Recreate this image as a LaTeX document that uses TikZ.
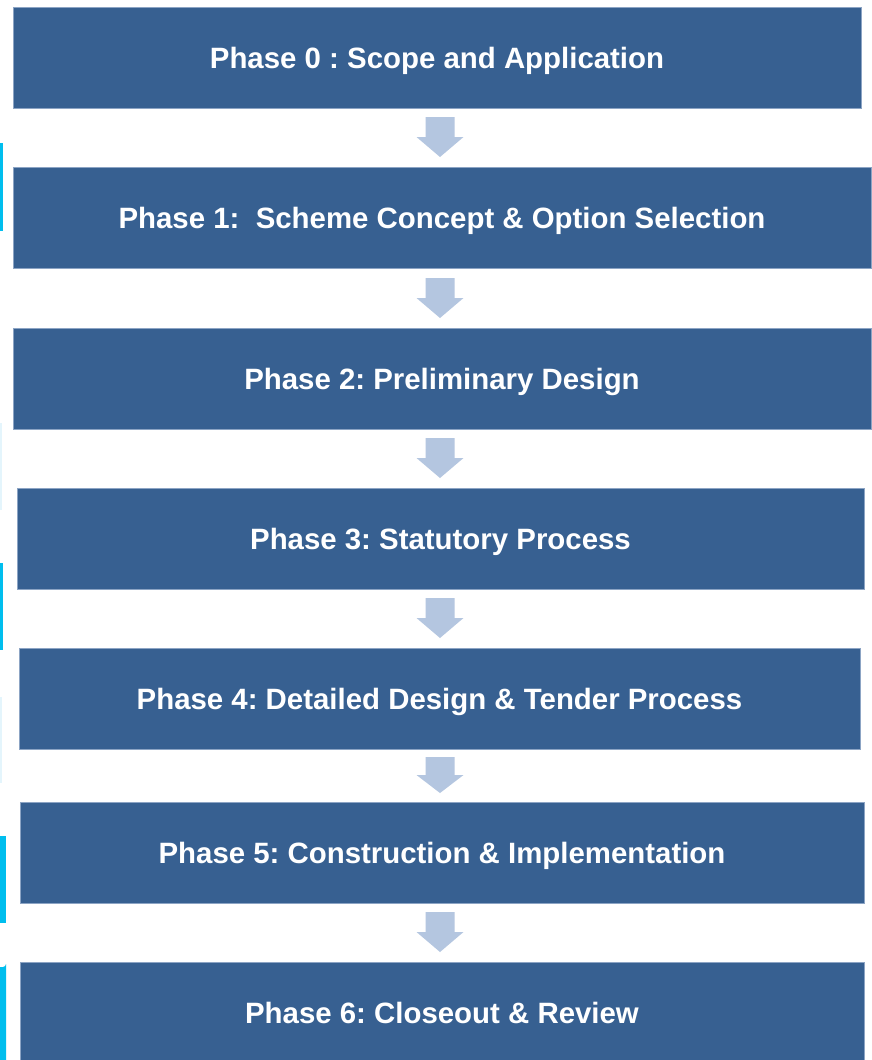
\documentclass[tikz,border=0pt]{standalone}
\usepackage{fontspec}
\setmainfont{Liberation Sans}
\frenchspacing
\definecolor{boxblue}{RGB}{55,96,145}
\definecolor{boxedge}{RGB}{140,164,196}
\definecolor{arrowblue}{RGB}{180,198,224}
\definecolor{cyanbar}{RGB}{0,190,238}
\definecolor{faintcyan}{RGB}{228,245,252}
\tikzset{
  phasebox/.style={fill=boxblue, draw=boxedge, line width=0.8pt, inner sep=0pt,
    minimum height=101pt, text height=27pt, text depth=6pt, text=white,
    font=\fontsize{29.4}{34}\selectfont\bfseries},
  blockarrow/.style={fill=arrowblue, draw=none}
}
\newcommand{\barrow}[3]{% center x, top y, length
  \fill[blockarrow] (#1-14.5,#2) -- (#1+14.5,#2) -- (#1+14.5,#2+#3/2) -- (#1+23.5,#2+#3/2)
    -- (#1,#2+#3) -- (#1-23.5,#2+#3/2) -- (#1-14.5,#2+#3/2) -- cycle;}
\begin{document}
\begin{tikzpicture}[x=1pt,y=-1pt]
\useasboundingbox (0,0) rectangle (872,1060);
\fill[white] (0,0) rectangle (872,1060);
% left edge bars
\fill[cyanbar] (0,143) rectangle (3,231);
\fill[faintcyan] (0,423) rectangle (2,510);
\fill[cyanbar] (0,563) rectangle (3,650);
\fill[faintcyan] (0,697) rectangle (2,783);
\fill[cyanbar] (0,836) rectangle (6,923);
\fill[cyanbar] (0,1063) -- (0,967) -- (3,967) arc[start angle=90,end angle=0,radius=3] -- (6,1063) -- cycle;
% boxes
\node[phasebox, minimum width=848pt] (p0) at (437,57.5) {Phase 0 : Scope and Application};
\node[phasebox, minimum width=858pt] (p1) at (442,217.5) {Phase 1:\ \ Scheme Concept \& Option Selection};
\node[phasebox, minimum width=858pt] (p2) at (442,378.5) {Phase 2: Preliminary Design};
\node[phasebox, minimum width=847pt] (p3) at (440.5,538.5) {Phase 3: Statutory Process};
\node[phasebox, minimum width=841pt] (p4) at (439.5,698.5) {Phase 4: Detailed Design \& Tender Process};
\node[phasebox, minimum width=844pt] (p5) at (442,852.5) {Phase 5: Construction \& Implementation};
\node[phasebox, minimum width=844pt] (p6) at (442,1012.5) {Phase 6: Closeout \& Review};
% arrows
\barrow{440}{117}{40}
\barrow{440}{278}{40}
\barrow{440}{438}{40}
\barrow{440}{598}{40}
\barrow{440}{757}{36}
\barrow{440}{912}{40}
\end{tikzpicture}
\end{document}
